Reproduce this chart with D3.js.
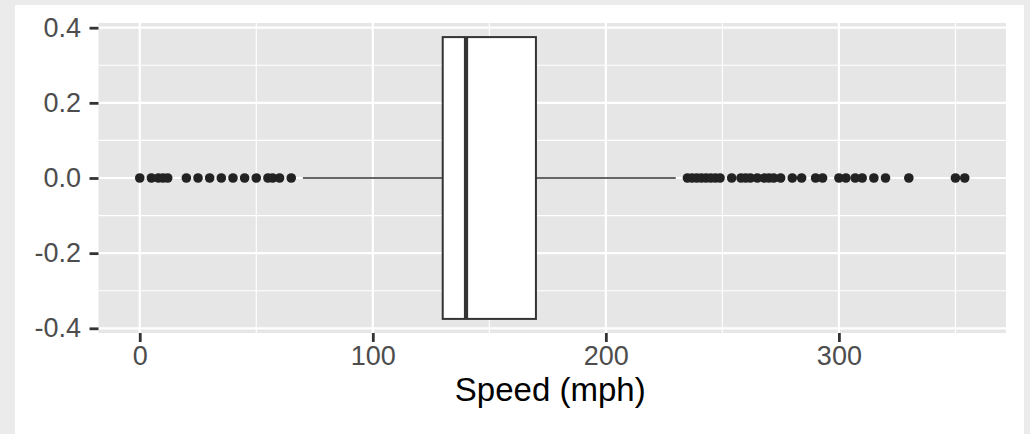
<!DOCTYPE html>
<html><head><meta charset="utf-8">
<script src="https://cdn.jsdelivr.net/npm/d3@7"></script>
<style>body{margin:0;background:#ebebeb;} svg{display:block;}</style>
</head><body>
<svg id="chart" width="1030" height="434"></svg>
<script>
// Data
const boxStats = [{q1: 130, median: 140, q3: 170, lower: 70, upper: 230}];
const outliers = [0, 5, 8, 10, 12, 20, 25, 30, 35, 40, 45, 50, 55, 57, 60, 65,
  235, 237, 239, 241, 243, 245, 247, 249, 254, 258, 260, 262, 265, 268, 270, 272, 275,
  280, 284, 290, 293, 300, 303, 307, 310, 315, 320, 330, 350, 354];
const xTicks = [0, 100, 200, 300];
const xMinor = [50, 150, 250, 350];
const yTicks = [-0.4, -0.2, 0.0, 0.2, 0.4];
const yMinor = [-0.3, -0.1, 0.1, 0.3];
const xTitle = "Speed (mph)";

const svg = d3.select("#chart");
svg.append("rect").attr("x", 0).attr("y", 0).attr("width", 1030).attr("height", 434).attr("fill", "#ebebeb");
svg.append("rect").attr("x", 15).attr("y", 5).attr("width", 1009).attr("height", 429).attr("fill", "#ffffff");

const P = {l: 98.5, r: 1006, t: 23, b: 333};
const x = d3.scaleLinear().domain([-17.7, 371.7]).range([P.l, P.r]);
const y = d3.scaleLinear().domain([-0.4125, 0.4125]).range([P.b, P.t]);

svg.append("rect").attr("x", P.l).attr("y", P.t).attr("width", P.r - P.l).attr("height", P.b - P.t).attr("fill", "#e6e6e6");

const g = svg.append("g");
g.selectAll(".xmin").data(xMinor).join("line")
  .attr("x1", d => x(d)).attr("x2", d => x(d)).attr("y1", P.t).attr("y2", P.b)
  .attr("stroke", "#fff").attr("stroke-width", 1.1);
g.selectAll(".ymin").data(yMinor).join("line")
  .attr("y1", d => y(d)).attr("y2", d => y(d)).attr("x1", P.l).attr("x2", P.r)
  .attr("stroke", "#fff").attr("stroke-width", 1.1);
g.selectAll(".xmaj").data(xTicks).join("line")
  .attr("x1", d => x(d)).attr("x2", d => x(d)).attr("y1", P.t).attr("y2", P.b)
  .attr("stroke", "#fff").attr("stroke-width", 2.2);
g.selectAll(".ymaj").data(yTicks).join("line")
  .attr("y1", d => y(d)).attr("y2", d => y(d)).attr("x1", P.l).attr("x2", P.r)
  .attr("stroke", "#fff").attr("stroke-width", 2.2);

// Box
const bw = 0.375;
boxStats.forEach(s => {
  g.append("line").attr("x1", x(s.lower)).attr("x2", x(s.q1)).attr("y1", y(0)).attr("y2", y(0))
    .attr("stroke", "#333").attr("stroke-width", 1.5);
  g.append("line").attr("x1", x(s.q3)).attr("x2", x(s.upper)).attr("y1", y(0)).attr("y2", y(0))
    .attr("stroke", "#333").attr("stroke-width", 1.5);
  g.append("rect").attr("x", x(s.q1)).attr("y", y(bw)).attr("width", x(s.q3) - x(s.q1))
    .attr("height", y(-bw) - y(bw)).attr("fill", "#fff").attr("stroke", "#333").attr("stroke-width", 2);
  g.append("line").attr("x1", x(s.median)).attr("x2", x(s.median)).attr("y1", y(bw)).attr("y2", y(-bw))
    .attr("stroke", "#333").attr("stroke-width", 4.2);
});
g.selectAll(".out").data(outliers).join("circle")
  .attr("cx", d => x(d)).attr("cy", y(0)).attr("r", 4.8).attr("fill", "#222");

// Axes
const font = "'Liberation Sans', Arial, sans-serif";
const xAxis = svg.append("g").attr("transform", `translate(0,${P.b})`)
  .call(d3.axisBottom(x).tickValues(xTicks).tickSize(9).tickPadding(4).tickFormat(d3.format("d")));
const yAxis = svg.append("g").attr("transform", `translate(${P.l},0)`)
  .call(d3.axisLeft(y).tickValues(yTicks).tickSize(9).tickPadding(8.5).tickFormat(d => d3.format(".1f")(d).replace("−", "-")));
[xAxis, yAxis].forEach(a => {
  a.select(".domain").remove();
  a.selectAll(".tick line").attr("stroke", "#333").attr("stroke-width", 2.8);
  a.selectAll(".tick text").attr("fill", "#4d4d4d").style("font-family", font).style("font-size", "27px");
});
svg.append("text").attr("x", (P.l + P.r) / 2 - 2).attr("y", 401).attr("text-anchor", "middle")
  .style("font-family", font).style("font-size", "33px").attr("fill", "#000").text(xTitle);
</script>
</body></html>
